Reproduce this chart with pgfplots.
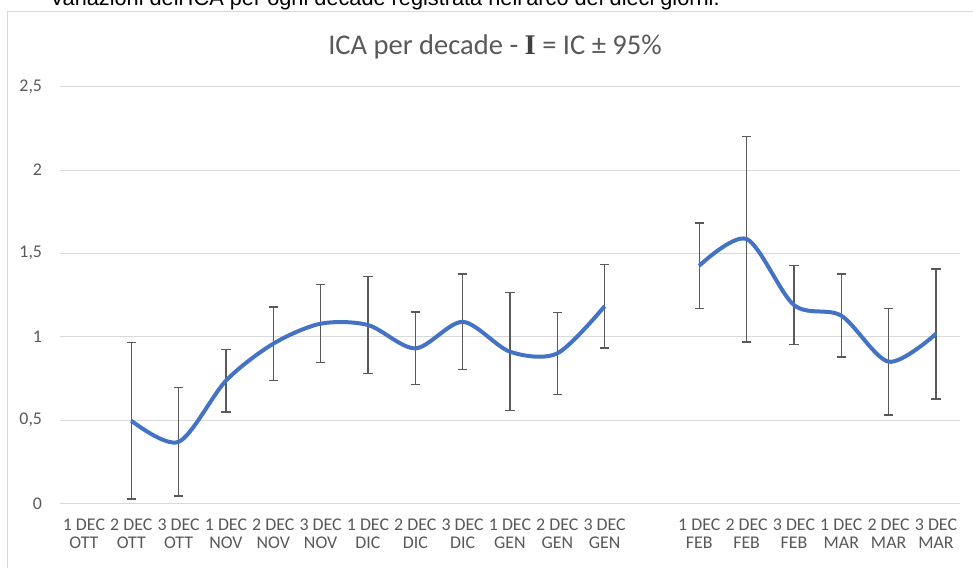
\documentclass[border=0pt]{standalone}
\usepackage{fontspec}
\setmainfont{Carlito}
\usepackage{pgfplots}
\usepackage{pgfplotstable}
\pgfplotsset{compat=1.18}
\definecolor{linblue}{HTML}{4472C4}
\definecolor{txtgray}{HTML}{595959}
\definecolor{gridgray}{HTML}{D9D9D9}
\definecolor{errgray}{HTML}{595959}
\definecolor{symgray}{HTML}{404040}

\pgfplotstableread{
x y e
1 0.496 0.470
2 0.369 0.325
3 0.736 0.188
4 0.958 0.220
5 1.078 0.234
6 1.070 0.290
7 0.930 0.217
8 1.089 0.286
9 0.910 0.354
10 0.900 0.246
11 1.183 0.251
}\dataA
\pgfplotstableread{
x y e
13 1.426 0.257
14 1.586 0.617
15 1.190 0.238
16 1.126 0.249
17 0.850 0.319
18 1.017 0.390
}\dataB

\newcommand{\PX}[2]{({#1*0.75pt},{-#2*0.75pt})}

\begin{document}
\begin{tikzpicture}
\useasboundingbox \PX{0}{0} rectangle \PX{973}{567};
\draw[gridgray, line width=0.75pt] \PX{7}{700} -- \PX{7}{12} -- \PX{1100}{12};
\node[anchor=base east, inner sep=0pt, font={\fontspec{Liberation Sans}\fontsize{16.3}{19}\selectfont}] at \PX{720}{5.3} {Variazioni dell'ICA per ogni decade registrata nell'arco dei dieci giorni.};
\node[anchor=base, inner sep=0pt, text=txtgray, font={\fontsize{21.4}{25}\selectfont}] at \PX{495}{54.3} {ICA per decade - {\fontspec{Liberation Serif}\bfseries\color{symgray}I} = IC ± 95\%};
\begin{axis}[
  at={(45.225pt,-377.475pt)}, anchor=south west,
  scale only axis, width=674.5pt, height=312.4pt,
  xmin=-0.5, xmax=18.5, ymin=0, ymax=2.5,
  axis line style={draw=none},
  major tick length=0pt,
  ymajorgrids, grid style={gridgray, line width=0.75pt},
  ytick={0,0.5,1,1.5,2,2.5},
  yticklabels={0,{0,5},1,{1,5},2,{2,5}},
  xtick={0,...,18},
  xticklabels={{1 DEC\\OTT},{2 DEC\\OTT},{3 DEC\\OTT},{1 DEC\\NOV},{2 DEC\\NOV},{3 DEC\\NOV},{1 DEC\\DIC},{2 DEC\\DIC},{3 DEC\\DIC},{1 DEC\\GEN},{2 DEC\\GEN},{3 DEC\\GEN},{},{1 DEC\\FEB},{2 DEC\\FEB},{3 DEC\\FEB},{1 DEC\\MAR},{2 DEC\\MAR},{3 DEC\\MAR}},
  ticklabel style={text=txtgray, font={\fontsize{13.4}{13.2}\selectfont}},
  yticklabel style={anchor=east, inner sep=0pt, xshift=-13.5pt},
  xticklabel style={anchor=north, align=center, inner sep=0pt, yshift=-11.8pt},
  clip=false,
]
\addplot[draw=none, mark=none, forget plot,
  error bars/.cd, y dir=both, y explicit,
  error bar style={errgray, line width=1.1pt},
  error mark options={rotate=90, errgray, line width=1.1pt, mark size=3.4pt}]
  table[x=x, y=y, y error=e] {\dataA};
\addplot[draw=none, mark=none, forget plot,
  error bars/.cd, y dir=both, y explicit,
  error bar style={errgray, line width=1.1pt},
  error mark options={rotate=90, errgray, line width=1.1pt, mark size=3.4pt}]
  table[x=x, y=y, y error=e] {\dataB};
\addplot[linblue, line width=3pt, smooth, mark=none] table[x=x, y=y] {\dataA};
\addplot[linblue, line width=3pt, smooth, mark=none] table[x=x, y=y] {\dataB};
\end{axis}
\end{tikzpicture}
\end{document}
